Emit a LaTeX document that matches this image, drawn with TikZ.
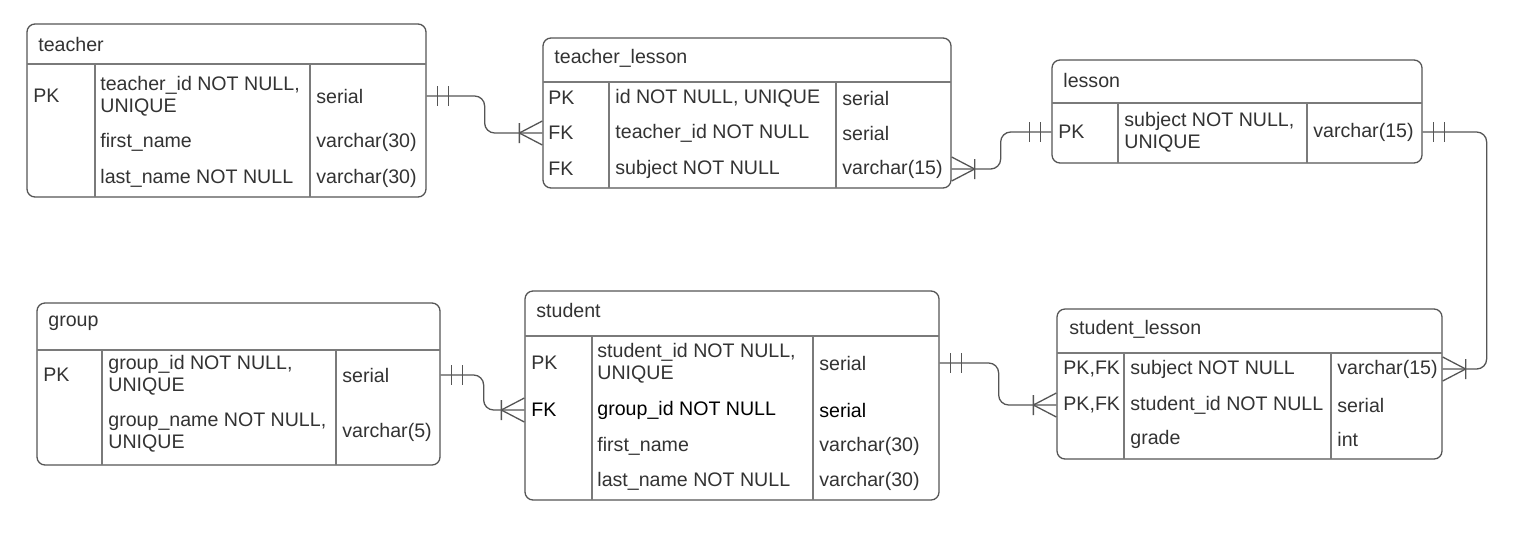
\documentclass[tikz,border=0pt]{standalone}
\usepackage{fontspec}
\newfontfamily\erfont{Liberation Sans}
\usetikzlibrary{fit, calc}
\definecolor{bordo}{HTML}{555555}
\definecolor{griglia}{HTML}{7A7A7A}
\definecolor{testo}{HTML}{333333}
\tikzset{
  tabella/.style={draw=bordo, line width=0.65pt, rounded corners=4pt, inner sep=0pt},
  riga/.style={draw=griglia, line width=0.65pt},
  campo/.style={anchor=west, inner sep=0pt, align=left, text=testo, font=\erfont\fontsize{9.8}{11}\selectfont},
  rel/.style={draw=bordo, line width=0.65pt, rounded corners=5pt},
  uno/.pic={\draw[bordo, line width=0.65pt] (11,-10) -- (11,10) (22,-10) -- (22,10);},
  molti/.pic={\draw[bordo, line width=0.65pt] (23,-10) -- (23,10) (23,0) -- (0,-12) (23,0) -- (0,12);},
}
\begin{document}
\begin{tikzpicture}[x=0.5pt, y=-0.5pt]
    \fill[white] (0,0) rectangle (1518,558);
    \useasboundingbox (0,0) rectangle (1518,558);
    %tabella teacher
    \node[tabella, fit={(27,24) (426,197)}] (teacher) {};
    \draw[riga] (27,64) -- (426,64) (95,64) -- (95,197) (310,64) -- (310,197);
    \node[campo] (teacher-t) at (38,44) {teacher};
    \node[campo] (teacher-k1) at (33,96) {PK};
    \node[campo] (teacher-n1) at (100,96) {teacher\_id NOT NULL,\\UNIQUE};
    \node[campo] (teacher-y1) at (316,96) {serial};
    \node[campo] (teacher-n2) at (100,142) {first\_name};
    \node[campo] (teacher-y2) at (316,142) {varchar(30)};
    \node[campo] (teacher-n3) at (100,178) {last\_name NOT NULL};
    \node[campo] (teacher-y3) at (316,178) {varchar(30)};
    %tabella teacher_lesson
    \node[tabella, fit={(543,38) (951,188)}] (tl) {};
    \draw[riga] (543,82) -- (951,82) (609,82) -- (609,188) (836,82) -- (836,188);
    \node[campo] (tl-t) at (554,58) {teacher\_lesson};
    \node[campo] (tl-k1) at (548,98) {PK};
    \node[campo] (tl-n1) at (615,98) {id NOT NULL, UNIQUE};
    \node[campo] (tl-y1) at (842,98) {serial};
    \node[campo] (tl-k2) at (548,133) {FK};
    \node[campo] (tl-n2) at (615,133) {teacher\_id NOT NULL};
    \node[campo] (tl-y2) at (842,133) {serial};
    \node[campo] (tl-k3) at (548,169) {FK};
    \node[campo] (tl-n3) at (615,169) {subject NOT NULL};
    \node[campo] (tl-y3) at (842,169) {varchar(15)};
    %tabella lesson
    \node[tabella, fit={(1052,60) (1422,163)}] (lesson) {};
    \draw[riga] (1052,103) -- (1422,103) (1118,103) -- (1118,163) (1307,103) -- (1307,163);
    \node[campo] (lesson-t) at (1063,80) {lesson};
    \node[campo] (lesson-k1) at (1058,132) {PK};
    \node[campo] (lesson-n1) at (1124,132) {subject NOT NULL,\\UNIQUE};
    \node[campo] (lesson-y1) at (1313,132) {varchar(15)};
    %tabella group
    \node[tabella, fit={(37,303) (440,465)}] (group) {};
    \draw[riga] (37,350) -- (440,350) (102,350) -- (102,465) (336,350) -- (336,465);
    \node[campo] (group-t) at (48,323) {group};
    \node[campo] (group-k1) at (43,375) {PK};
    \node[campo] (group-n1) at (108,375) {group\_id NOT NULL,\\UNIQUE};
    \node[campo] (group-y1) at (342,375) {serial};
    \node[campo] (group-n2) at (108,432) {group\_name NOT NULL,\\UNIQUE};
    \node[campo] (group-y2) at (342,432) {varchar(5)};
    %tabella student
    \node[tabella, fit={(525,291) (939,500)}] (student) {};
    \draw[riga] (525,336) -- (939,336) (592,336) -- (592,500) (813,336) -- (813,500);
    \node[campo] (student-t) at (536,310) {student};
    \node[campo] (student-k1) at (531,363) {PK};
    \node[campo] (student-n1) at (597,363) {student\_id NOT NULL,\\UNIQUE};
    \node[campo] (student-y1) at (819,363) {serial};
    \node[campo, text=black] (student-k2) at (531,410) {FK};
    \node[campo, text=black] (student-n2) at (597,410) {group\_id NOT NULL};
    \node[campo, text=black] (student-y2) at (819,410) {serial};
    \node[campo] (student-n3) at (597,446) {first\_name};
    \node[campo] (student-y3) at (819,446) {varchar(30)};
    \node[campo] (student-n4) at (597,481) {last\_name NOT NULL};
    \node[campo] (student-y4) at (819,481) {varchar(30)};
    %tabella student_lesson
    \node[tabella, fit={(1057,309) (1442,459)}] (sl) {};
    \draw[riga] (1057,353) -- (1442,353) (1124,353) -- (1124,459) (1331,353) -- (1331,459);
    \node[campo] (sl-t) at (1069,329) {student\_lesson};
    \node[campo] (sl-k1) at (1063,369) {PK,FK};
    \node[campo] (sl-n1) at (1130,369) {subject NOT NULL};
    \node[campo] (sl-y1) at (1337,369) {varchar(15)};
    \node[campo] (sl-k2) at (1063,405) {PK,FK};
    \node[campo] (sl-n2) at (1130,405) {student\_id NOT NULL};
    \node[campo] (sl-y2) at (1337,405) {serial};
    \node[campo] (sl-n3) at (1130,439) {grade};
    \node[campo] (sl-y3) at (1337,439) {int};
    %collegamenti
    \draw[rel] (teacher.east |- teacher-k1) -- ++(58,0) |- (tl.west |- tl-k2);
    \pic at (teacher.east |- teacher-k1) {uno};
    \pic[xscale=-1] at (tl.west |- tl-k2) {molti};
    \draw[rel] (tl.east |- tl-k3) -- ++(49,0) |- (lesson.west |- lesson-k1);
    \pic at (tl.east |- tl-k3) {molti};
    \pic[xscale=-1] at (lesson.west |- lesson-k1) {uno};
    \draw[rel] (lesson.east |- lesson-k1) -- ++(64,0) |- (sl.east |- sl-k1);
    \pic at (lesson.east |- lesson-k1) {uno};
    \pic at (sl.east |- sl-k1) {molti};
    \draw[rel] (group.east |- group-k1) -- ++(43,0) |- (student.west |- student-k2);
    \pic at (group.east |- group-k1) {uno};
    \pic[xscale=-1] at (student.west |- student-k2) {molti};
    \draw[rel] (student.east |- student-k1) -- ++(59,0) |- (sl.west |- sl-k2);
    \pic at (student.east |- student-k1) {uno};
    \pic[xscale=-1] at (sl.west |- sl-k2) {molti};
\end{tikzpicture}
\end{document}
